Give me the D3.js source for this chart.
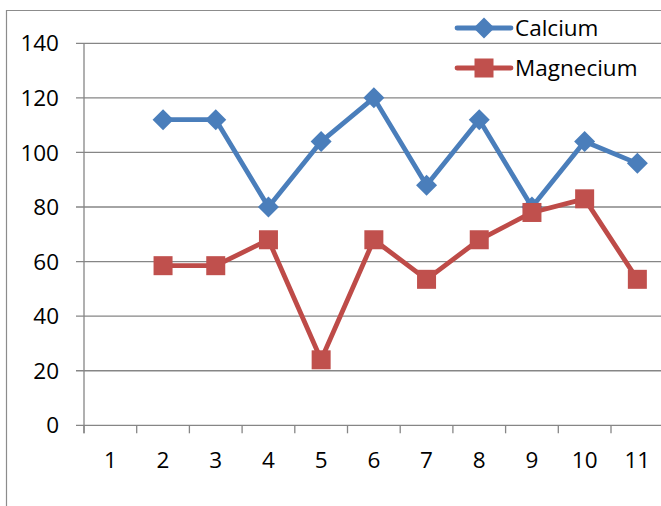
<!DOCTYPE html>
<html><head><meta charset="utf-8">
<script src="https://cdn.jsdelivr.net/npm/d3@7"></script>
<style>html,body{margin:0;padding:0;background:#fff;overflow:hidden}</style>
</head><body>
<script>
const categories = ["1","2","3","4","5","6","7","8","9","10","11"];
const calcium   = [null,112,112,80,104,120,88,112,80,104,96];
const magnecium = [null,58.5,58.5,68,24,68,53.5,68,78,83,53.5];
const yTicks = [0,20,40,60,80,100,120,140];
const seriesNames = ["Calcium","Magnecium"];

const W = 661, H = 506;
const FS = 22.5;
const svg = d3.select("body").append("svg").attr("width",W).attr("height",H)
  .style("font-family","'Open Sans', 'Liberation Sans', sans-serif");

// outer chart frame (partially cropped)
svg.append("path").attr("d",`M6.5,${H} V10.5 H${W}`).attr("fill","none")
  .attr("stroke","#8c8c8c").attr("stroke-width",1.2);

const x = d3.scaleBand().domain(categories).range([84, 84 + 11*52.7]).paddingInner(0).paddingOuter(0);
const y = d3.scaleLinear().domain([0,140]).range([425.3, 43.3]);

const gridColor = "#868686";
// gridlines
svg.append("g").selectAll("line").data(yTicks).join("line")
  .attr("x1",76).attr("x2",W).attr("y1",d=>y(d)).attr("y2",d=>y(d))
  .attr("stroke",gridColor).attr("stroke-width",1.3);
// y axis line
svg.append("line").attr("x1",84).attr("x2",84).attr("y1",y(140)).attr("y2",y(0)+8)
  .attr("stroke",gridColor).attr("stroke-width",1.3);
// y labels
svg.append("g").selectAll("text").data(yTicks).join("text")
  .attr("x",59).attr("y",d=>y(d)).attr("dy","0.36em").attr("text-anchor","end")
  .attr("font-size",FS).attr("fill","#000").text(d=>d);
// x tick marks at band boundaries
svg.append("g").selectAll("line").data(categories).join("line")
  .attr("x1",d=>x(d)).attr("x2",d=>x(d)).attr("y1",y(0)).attr("y2",y(0)+8)
  .attr("stroke",gridColor).attr("stroke-width",1.3);
// x labels
svg.append("g").selectAll("text").data(categories).join("text")
  .attr("x",d=>x(d)+x.bandwidth()/2).attr("y",460).attr("dy","0.36em")
  .attr("text-anchor","middle").attr("font-size",FS).attr("fill","#000").text(d=>d);

const cx = (d,i)=>x(categories[i])+x.bandwidth()/2;
const line = d3.line().defined(d=>d!=null).x((d,i)=>cx(d,i)).y(d=>y(d));

const series = [
  {name:seriesNames[0], data:calcium, line:"#4A7EBB", marker:"#4A7EBB", shape:"diamond"},
  {name:seriesNames[1], data:magnecium, line:"#BE4B48", marker:"#C0504D", shape:"square"}
];
function marker(g, shape, color){
  if(shape==="diamond") g.append("path").attr("d","M0,-10.5 L10.5,0 L0,10.5 L-10.5,0 Z").attr("fill",color);
  else g.append("rect").attr("x",-9.5).attr("y",-9.5).attr("width",19).attr("height",19).attr("fill",color);
}
series.forEach(s=>{
  svg.append("path").datum(s.data).attr("d",line).attr("fill","none")
    .attr("stroke",s.line).attr("stroke-width",4.8).attr("stroke-linejoin","round").attr("stroke-linecap","round");
});
series.forEach(s=>{
  s.data.forEach((v,i)=>{
    if(v==null) return;
    const g = svg.append("g").attr("transform",`translate(${cx(v,i)},${y(v)})`);
    marker(g, s.shape, s.marker);
  });
});

// legend
series.forEach((s,k)=>{
  const ly = 28 + k*40;
  svg.append("line").attr("x1",457).attr("x2",511).attr("y1",ly).attr("y2",ly)
    .attr("stroke",s.line).attr("stroke-width",4.8).attr("stroke-linecap","round");
  const g = svg.append("g").attr("transform",`translate(484,${ly})`);
  marker(g, s.shape, s.marker);
  svg.append("text").attr("x",515).attr("y",ly).attr("dy","0.36em")
    .attr("font-size",FS).attr("fill","#000").text(s.name);
});
</script>
</body></html>
